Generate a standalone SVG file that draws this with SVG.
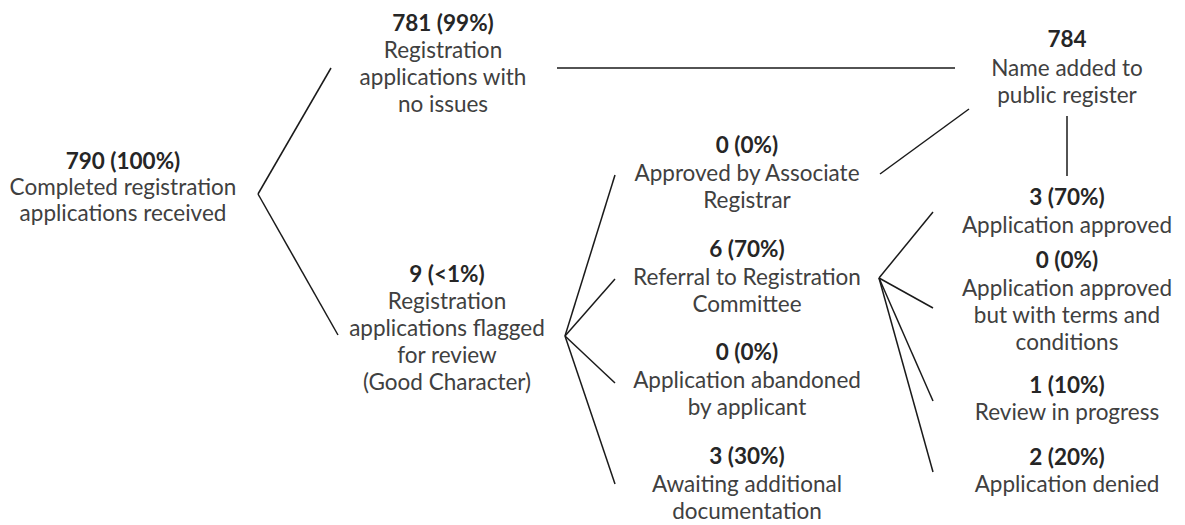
<svg xmlns="http://www.w3.org/2000/svg" width="1185" height="525" viewBox="0 0 1185 525">
<style>
text{font-family:Lato,"Liberation Sans",sans-serif;font-size:22.5px;fill:#404040;text-anchor:middle}
.b{font-weight:bold;fill:#262626}
.c line{stroke:#1a1a1a;stroke-width:1.5;stroke-linecap:butt}
</style>
<rect width="1185" height="525" fill="#fff"/>
<g class="c" id="connectors">
<line x1="258" y1="194" x2="331" y2="68"/>
<line x1="258" y1="194" x2="338" y2="335"/>
<line x1="557" y1="68" x2="955" y2="68"/>
<line x1="880" y1="174" x2="969" y2="109"/>
<line x1="1067" y1="116" x2="1067" y2="176"/>
<line x1="565" y1="336" x2="615" y2="175"/>
<line x1="565" y1="336" x2="615" y2="279"/>
<line x1="565" y1="336" x2="615" y2="383"/>
<line x1="565" y1="336" x2="615" y2="484"/>
<line x1="879" y1="278" x2="933" y2="212"/>
<line x1="879" y1="278" x2="933" y2="308"/>
<line x1="879" y1="278" x2="933" y2="401"/>
<line x1="879" y1="278" x2="933" y2="472"/>
</g>
<g id="n790"><text class="b" x="123" y="169">790 (100%)</text><text x="123" y="195">Completed registration</text><text x="123" y="221">applications received</text></g>
<g id="n781"><text class="b" x="443" y="31">781 (99%)</text><text x="443" y="58">Registration</text><text x="443" y="85">applications with</text><text x="443" y="112">no issues</text></g>
<g id="n784"><text class="b" x="1067" y="47">784</text><text x="1067" y="76">Name added to</text><text x="1067" y="103">public register</text></g>
<g id="n9"><text class="b" x="447" y="282">9 (&lt;1%)</text><text x="447" y="309">Registration</text><text x="447" y="336">applications flagged</text><text x="447" y="363">for review</text><text x="447" y="390">(Good Character)</text></g>
<g id="nAssoc"><text class="b" x="747" y="153">0 (0%)</text><text x="747" y="181">Approved by Associate</text><text x="747" y="208">Registrar</text></g>
<g id="nRef"><text class="b" x="747" y="257">6 (70%)</text><text x="747" y="285">Referral to Registration</text><text x="747" y="312">Committee</text></g>
<g id="nAband"><text class="b" x="747" y="360">0 (0%)</text><text x="747" y="388">Application abandoned</text><text x="747" y="415">by applicant</text></g>
<g id="nAwait"><text class="b" x="747" y="464">3 (30%)</text><text x="747" y="492">Awaiting additional</text><text x="747" y="519">documentation</text></g>
<g id="nApproved"><text class="b" x="1067" y="205">3 (70%)</text><text x="1067" y="233">Application approved</text></g>
<g id="nTerms"><text class="b" x="1067" y="268">0 (0%)</text><text x="1067" y="296">Application approved</text><text x="1067" y="323">but with terms and</text><text x="1067" y="350">conditions</text></g>
<g id="nReview"><text class="b" x="1067" y="393">1 (10%)</text><text x="1067" y="420">Review in progress</text></g>
<g id="nDenied"><text class="b" x="1067" y="465">2 (20%)</text><text x="1067" y="492">Application denied</text></g>
</svg>
